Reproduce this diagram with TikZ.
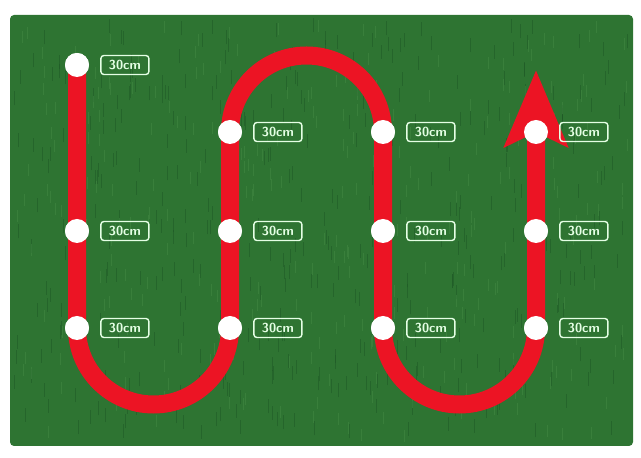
\documentclass[tikz,border=0pt]{standalone}
\usepackage{tikz}
\usetikzlibrary{positioning,arrows.meta}

\definecolor{turf}{RGB}{46,116,50}
\definecolor{turfdark}{RGB}{30,88,38}
\definecolor{turflight}{RGB}{72,142,72}
\definecolor{trackred}{RGB}{236,20,36}

\begin{document}
\begin{tikzpicture}[
        x=1pt, y=1pt,
        dot/.style={circle, fill=white, minimum size=24pt, inner sep=0pt},
        tag/.style={rectangle, rounded corners=3pt, draw=green!10!white, line width=1.4pt, text=green!10!white, font=\sffamily\bfseries\fontsize{13}{14}\selectfont, minimum width=48pt, minimum height=19pt, inner sep=1pt},
        track/.style={draw=trackred, line width=18pt},
        tip/.style={-{Stealth[length=76pt, width=62pt, inset=14pt]}}
    ]
        \useasboundingbox (0,0) rectangle (641,458);
        % turf
        \fill[turf, rounded corners=4pt] (10,12) rectangle (633,443);
        \pgfmathsetseed{7}
        \foreach \i in {1,...,420} {
            \pgfmathsetmacro{\gx}{14+rnd*615}
            \pgfmathsetmacro{\gy}{16+rnd*410}
            \draw[turfdark, line width=0.8pt, opacity=0.5] (\gx,\gy) -- ++(0,14);
        }
        \foreach \i in {1,...,300} {
            \pgfmathsetmacro{\gx}{14+rnd*615}
            \pgfmathsetmacro{\gy}{16+rnd*410}
            \draw[turflight, line width=0.7pt, opacity=0.45] (\gx,\gy) -- ++(0,12);
        }

        % markers
        \node[dot] (d11) at (77,393) {};
        \node[dot] (d12) at (77,227) {};
        \node[dot] (d13) at (77,130) {};
        \node[dot] (d21) at (230,326) {};
        \node[dot] (d22) at (230,227) {};
        \node[dot] (d23) at (230,130) {};
        \node[dot] (d31) at (383,326) {};
        \node[dot] (d32) at (383,227) {};
        \node[dot] (d33) at (383,130) {};
        \node[dot] (d41) at (536,326) {};
        \node[dot] (d42) at (536,227) {};
        \node[dot] (d43) at (536,130) {};
        \coordinate (goal) at (536,388);

        % red track
        \draw[track, tip] (d11.center) -- (d13.center)
            arc[start angle=180, end angle=360, radius=76.5] -- (d21.center)
            arc[start angle=180, end angle=0, radius=76.5] -- (d33.center)
            arc[start angle=180, end angle=360, radius=76.5] -- (goal);

        % markers on top of the track
        \foreach \d in {d11,d12,d13,d21,d22,d23,d31,d32,d33,d41,d42,d43} {
            \fill[white] (\d) circle (12pt);
            \node[tag, right=11pt of \d] (t\d) {30cm};
        }
    \end{tikzpicture}
\end{document}
